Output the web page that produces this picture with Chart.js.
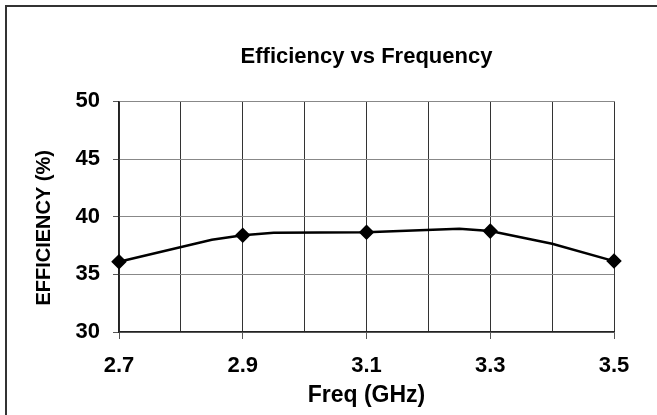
<!DOCTYPE html>
<html>
<head>
<meta charset="utf-8">
<script src="https://cdn.jsdelivr.net/npm/chart.js@4"></script>
<style>
  body { margin: 0; background: #fff; }
  canvas { display: block; }
</style>
</head>
<body>
<canvas id="effChart" width="657" height="415"></canvas>
<script>
// measured curve, GHz vs %
var freqs = [2.7, 2.85, 2.9, 2.95, 3.1, 3.25, 3.3, 3.4, 3.5];
var effs  = [36.1, 38.0, 38.4, 38.6, 38.65, 38.95, 38.75, 37.65, 36.15];
var xTicks = [2.7, 2.9, 3.1, 3.3, 3.5];   // labelled + marked freqs
var yTicks = [30, 35, 40, 45, 50];

var FONT = "'Liberation Sans', Arial, sans-serif";

var points = [];
for (var i = 0; i < freqs.length; i++) {
  points.push({x: freqs[i], y: effs[i]});
}

function isMain(v) {
  for (var j = 0; j < xTicks.length; j++) {
    if (Math.abs(xTicks[j] - v) < 1e-6) return true;
  }
  return false;
}

// outer frame like the excel chart box
var framePlugin = {
  id: 'frame',
  afterDraw: function(chart) {
    var c = chart.ctx;
    c.save();
    c.strokeStyle = '#333';
    c.lineWidth = 2;
    c.beginPath();
    c.moveTo(6, 415);
    c.lineTo(6, 6);
    c.lineTo(657, 6);
    c.stroke();
    c.restore();
  }
};

var ctx = document.getElementById('effChart');
var chart = new Chart(ctx, {
  type: 'scatter',
  data: {
    datasets: [{
      data: points,
      showLine: true,
      borderColor: '#000',
      backgroundColor: '#000',
      borderWidth: 2.5,
      tension: 0,
      pointStyle: 'rectRot',
      pointRadius: function(c) { return isMain(c.raw.x) ? 6 : 0; },
      pointHoverRadius: 0,
      clip: false
    }]
  },
  options: {
    responsive: false,
    animation: false,
    events: [],
    layout: { padding: { left: 0, right: 43, top: 0, bottom: 0 } },
    plugins: {
      legend: { display: false },
      tooltip: { enabled: false },
      title: {
        display: true,
        fullSize: false,
        text: 'Efficiency vs Frequency',
        color: '#000',
        font: { family: FONT, size: 22, weight: 'bold' },
        padding: { top: 44, bottom: 31 }
      }
    },
    scales: {
      x: {
        type: 'linear',
        min: 2.7,
        max: 3.5,
        afterFit: function(s) { s.height = 83; },
        afterBuildTicks: function(s) {
          var t = [];
          for (var k = 0; k <= 8; k++) t.push({value: Math.round(27 + k) / 10});
          s.ticks = t;
        },
        ticks: {
          autoSkip: false,
          maxRotation: 0,
          color: '#000',
          padding: 14,
          font: { family: FONT, size: 22, weight: 'bold' },
          callback: function(v) { return isMain(v) ? v.toFixed(1) : ''; }
        },
        grid: {
          color: '#333',
          lineWidth: 1,
          tickLength: 7,
          tickColor: function(c) { return isMain(c.tick.value) ? '#555' : 'rgba(0,0,0,0)'; }
        },
        border: { color: '#222', width: 1.5 },
        title: {
          display: true,
          text: 'Freq (GHz)',
          color: '#000',
          font: { family: FONT, size: 23, weight: 'bold' },
          padding: { top: 0, bottom: 6 }
        }
      },
      y: {
        min: 30,
        max: 50,
        afterFit: function(s) { s.width = 119; },
        afterBuildTicks: function(s) {
          s.ticks = yTicks.map(function(v) { return {value: v}; });
        },
        ticks: {
          color: '#000',
          padding: 13,
          font: { family: FONT, size: 22, weight: 'bold' }
        },
        grid: {
          color: '#888',
          lineWidth: 1,
          tickLength: 6,
          tickColor: '#555'
        },
        border: { color: '#222', width: 1.5 },
        title: {
          display: true,
          text: 'EFFICIENCY (%)    ',
          color: '#000',
          font: { family: FONT, size: 20, weight: 'bold' },
          padding: { top: 32, bottom: 0 }
        }
      }
    }
  },
  plugins: [framePlugin]
});
</script>
</body>
</html>
